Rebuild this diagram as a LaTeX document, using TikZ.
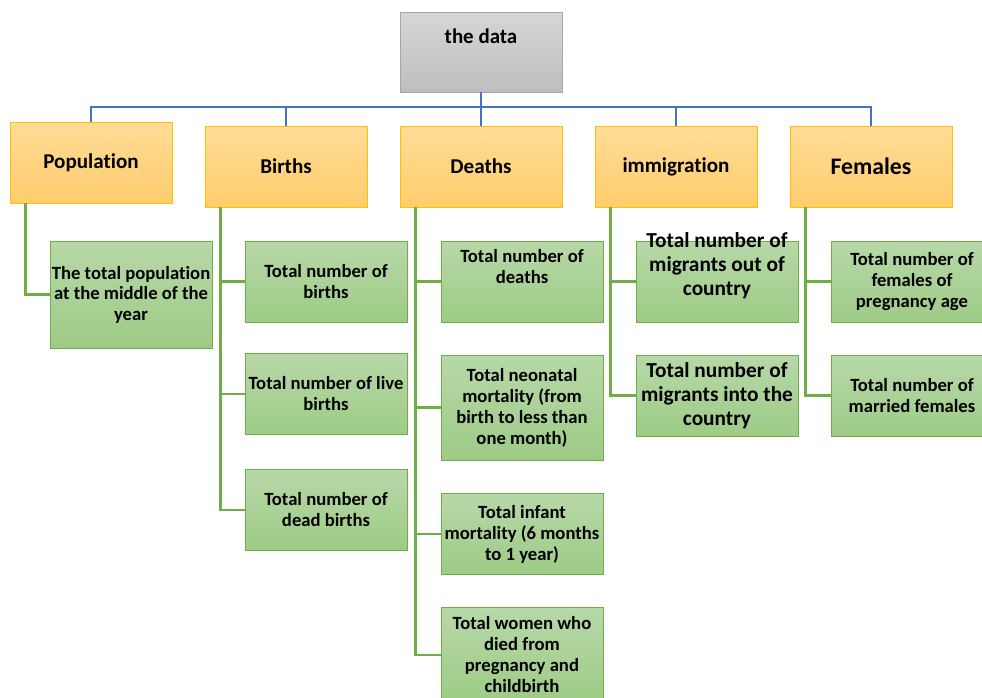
\documentclass[tikz,border=0pt]{standalone}
\usepackage{fontspec}
\setmainfont[RawFeature={-liga;-clig;-dlig;-calt}]{Carlito}
\usetikzlibrary{positioning}

\definecolor{grayline}{HTML}{A5A5A5}
\definecolor{graytop}{HTML}{D6D6D6}
\definecolor{graybot}{HTML}{BEBEBE}
\definecolor{orangeline}{HTML}{FFC000}
\definecolor{orangetop}{HTML}{FFDC98}
\definecolor{orangebot}{HTML}{FFCD6C}
\definecolor{greenline}{HTML}{70AD47}
\definecolor{greentop}{HTML}{B7D8A8}
\definecolor{greenbot}{HTML}{9ECB86}
\definecolor{busblue}{HTML}{4472C4}

\begin{document}
\begin{tikzpicture}[x=0.75pt, y=-0.75pt]
\tikzset{
  rootbox/.style={draw=grayline, top color=graytop, bottom color=graybot,
    minimum width=121.5pt, minimum height=60pt, inner sep=0pt},
  catbox/.style={draw=orangeline, top color=orangetop, bottom color=orangebot,
    minimum width=121.5pt, minimum height=60.75pt, inner sep=0pt,
    font=\bfseries\fontsize{15.8}{19}\selectfont},
  leaftext/.style={align=center, font=\bfseries\fontsize{14}{15.75}\selectfont},
  bigtext/.style={align=center, font=\bfseries\fontsize{16}{18}\selectfont},
  leafbox/.style={draw=greenline, top color=greentop, bottom color=greenbot,
    minimum width=121.5pt, minimum height=60.75pt, inner sep=0pt, leaftext},
  bus/.style={draw=busblue, line width=1.8pt},
  stem/.style={draw=greenline, line width=2.2pt},
}
\useasboundingbox (0,0) rectangle (982,697);
\clip (0,0) rectangle (982,697);

% top and second row
\node[rootbox, label={[name=datatext, anchor=center, yshift=-18pt,
  font=\bfseries\fontsize{15.7}{19}\selectfont]north:the data}] (data) at (481,52) {};
\node[catbox] (pop) at (91,162.5) {Population};
\node[catbox] (birth) at (286,166.5) {Births};
\node[catbox] (death) at (481,166.5) {Deaths};
\node[catbox] (immig) at (676,166.5) {immigration};
\node[catbox, font=\bfseries\fontsize{17.8}{21}\selectfont] (fem) at (871,166.5) {Females};

% leaves
\node[leafbox, minimum height=80.25pt, font=\bfseries\fontsize{14}{15.4}\selectfont] (pop1) at (131,294.5)
  {The total population\\at the middle of the\\year};

\node[leafbox] (birth1) at (326,281.5) {Total number of\\births};
\node[leafbox] (birth2) at (326,394) {Total number of live\\births};
\node[leafbox] (birth3) at (326,510) {Total number of\\dead births};

\node[leafbox, label={[name=death1text, leaftext, anchor=center, yshift=11.25pt]center:{Total number of\\deaths}}]
  (death1) at (522,281.5) {};
\node[leafbox, minimum height=78.75pt] (death2) at (522,407.5)
  {Total neonatal\\mortality (from\\birth to less than\\one month)};
\node[leafbox] (death3) at (522,534) {Total infant\\mortality (6 months\\to 1 year)};
\node[leafbox, minimum height=71pt] (death4) at (522,655)
  {Total women who\\died from\\pregnancy and\\childbirth};

\node[leafbox, label={[name=immig1text, bigtext, anchor=center, yshift=12pt]center:{Total number of\\migrants out of\\country}}]
  (immig1) at (717,281.5) {};
\node[leafbox, bigtext] (immig2) at (717,395.5) {Total number of\\migrants into the\\country};

\node[leafbox] (fem1) at (912,281.5) {Total number of\\females of\\pregnancy age};
\node[leafbox] (fem2) at (912,395.5) {Total number of\\married females};

% blue bus
\coordinate (bus) at (481,107);
\draw[bus] (data.south) -- (bus);
\draw[bus] (pop.north) |- (bus) -| (fem.north);
\foreach \n in {birth,death,immig}
  \draw[bus] (bus -| \n.north) -- (\n.north);

% green stems
\draw[stem] ([xshift=12pt]pop.south west) |- (pop1.west);
\draw[stem] ([xshift=12pt]birth.south west) coordinate (bs) |- (birth3.west);
\foreach \k in {1,2}
  \draw[stem] (bs |- birth\k.west) -- (birth\k.west);
\draw[stem] ([xshift=12pt]death.south west) coordinate (ds) |- (death4.west);
\foreach \k in {1,2,3}
  \draw[stem] (ds |- death\k.west) -- (death\k.west);
\draw[stem] ([xshift=12pt]immig.south west) coordinate (is) |- (immig2.west);
\draw[stem] (is |- immig1.west) -- (immig1.west);
\draw[stem] ([xshift=12pt]fem.south west) coordinate (fs) |- (fem2.west);
\draw[stem] (fs |- fem1.west) -- (fem1.west);
\end{tikzpicture}
\end{document}
